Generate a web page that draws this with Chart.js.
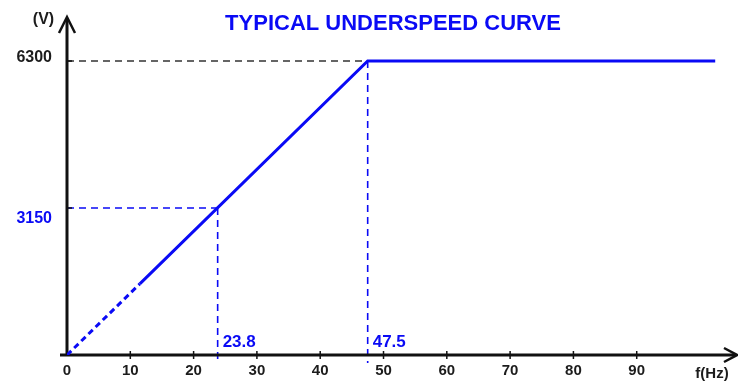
<!DOCTYPE html>
<html>
<head>
<meta charset="utf-8">
<script src="https://cdn.jsdelivr.net/npm/chart.js@4/dist/chart.umd.min.js"></script>
<style>
  html, body { margin: 0; padding: 0; background: #fff; }
  #wrap { width: 738px; height: 383px; }
</style>
</head>
<body>
<div id="wrap"><canvas id="c" width="738" height="383"></canvas></div>
<script>
// ---- data ----
const title = 'TYPICAL UNDERSPEED CURVE';
const yUnit = '(V)';
const xUnit = 'f(Hz)';
const curveF = [0, 11.5, 47.5, 102.4];      // Hz
const curveV = [0, 1525, 6300, 6300];       // V
const xTickValues = [0, 10, 20, 30, 40, 50, 60, 70, 80, 90];
const yTickValues = [3150, 6300];
const yTickLabels = ['3150', '6300'];
const markF = [23.8, 47.5];
const markV = [3150, 6300];
const markLabels = ['23.8', '47.5'];

const BLUE = '#0a0af5';
const DARK = '#1c1c1c';
const FONT = '"Liberation Sans", Arial, sans-serif';

const points = curveF.map((f, i) => ({ x: f, y: curveV[i] }));

const decor = {
  id: 'decor',
  beforeDatasetsDraw(chart) {
    const ctx = chart.ctx, xs = chart.scales.x, ys = chart.scales.y;
    const x0 = xs.getPixelForValue(0), y0 = ys.getPixelForValue(0);
    ctx.save();
    ctx.lineWidth = 1.6;
    // reference lines
    markF.forEach((f, i) => {
      const px = xs.getPixelForValue(f), py = ys.getPixelForValue(markV[i]);
      ctx.setLineDash([7, 5]);
      ctx.strokeStyle = i === 1 ? '#333' : BLUE;
      ctx.beginPath(); ctx.moveTo(x0, py); ctx.lineTo(px, py); ctx.stroke();
      ctx.strokeStyle = BLUE;
      ctx.beginPath(); ctx.moveTo(px, py); ctx.lineTo(px, y0 + 8); ctx.stroke();
    });
    ctx.setLineDash([]);
    // axes
    ctx.strokeStyle = '#111';
    ctx.lineWidth = 3;
    const top = chart.chartArea.top, right = chart.chartArea.right;
    ctx.beginPath(); ctx.moveTo(x0 - 7, y0); ctx.lineTo(right - 2, y0); ctx.stroke();
    ctx.beginPath(); ctx.moveTo(x0, y0 + 1); ctx.lineTo(x0, top + 2); ctx.stroke();
    ctx.lineWidth = 2.5;
    // arrow heads
    ctx.beginPath(); ctx.moveTo(x0 - 8, top + 16); ctx.lineTo(x0, top); ctx.lineTo(x0 + 8, top + 16); ctx.stroke();
    ctx.beginPath(); ctx.moveTo(right - 14, y0 - 7); ctx.lineTo(right - 1, y0); ctx.lineTo(right - 14, y0 + 7); ctx.stroke();
    // tick marks
    ctx.lineWidth = 1.5;
    xTickValues.forEach(v => {
      if (v === 0) return;
      const px = xs.getPixelForValue(v);
      ctx.beginPath(); ctx.moveTo(px, y0 - 4); ctx.lineTo(px, y0 + 4); ctx.stroke();
    });
    yTickValues.forEach(v => {
      const py = ys.getPixelForValue(v);
      ctx.beginPath(); ctx.moveTo(x0, py); ctx.lineTo(x0 + 5, py); ctx.stroke();
    });
    ctx.restore();
  },
  afterDraw(chart) {
    const ctx = chart.ctx, xs = chart.scales.x, ys = chart.scales.y;
    ctx.save();
    ctx.textBaseline = 'middle';
    // title
    ctx.fillStyle = BLUE; ctx.textAlign = 'center';
    ctx.font = 'bold 22px ' + FONT;
    ctx.fillText(title, 393, 24);
    // units
    ctx.fillStyle = DARK;
    ctx.font = 'bold 16px ' + FONT;
    ctx.fillText(yUnit, 43.5, 20);
    ctx.font = 'bold 15px ' + FONT;
    ctx.fillText(xUnit, 712, 374);
    // y tick labels
    ctx.textAlign = 'right';
    ctx.font = 'bold 16px ' + FONT;
    yTickValues.forEach((v, i) => {
      const py = ys.getPixelForValue(v);
      ctx.fillStyle = i === 0 ? BLUE : DARK;
      ctx.fillText(yTickLabels[i], 52, py + (i === 0 ? 11 : -3.5));
    });
    // marker labels
    ctx.textAlign = 'left';
    ctx.fillStyle = BLUE;
    ctx.font = 'bold 17px ' + FONT;
    markF.forEach((f, i) => {
      ctx.fillText(markLabels[i], xs.getPixelForValue(f) + 5, ys.getPixelForValue(0) - 13);
    });
    ctx.restore();
  }
};

new Chart(document.getElementById('c'), {
  type: 'line',
  data: {
    datasets: [{
      data: points,
      borderColor: BLUE,
      borderWidth: 3,
      pointRadius: 0,
      tension: 0,
      fill: false,
      segment: {
        borderDash: c => c.p0DataIndex === 0 ? [6, 4] : undefined
      }
    }]
  },
  options: {
    responsive: false,
    devicePixelRatio: 1,
    animation: false,
    layout: { padding: { left: 67, right: 0, top: 17, bottom: 0 } },
    plugins: { legend: { display: false }, tooltip: { enabled: false }, title: { display: false } },
    scales: {
      x: {
        type: 'linear', min: 0, max: 106,
        grid: { display: false, drawTicks: false },
        border: { display: false },
        afterBuildTicks: s => { s.ticks = xTickValues.map(v => ({ value: v })); },
        afterFit: s => { s.height = 28; },
        ticks: {
          autoSkip: false, maxRotation: 0, padding: 7,
          color: DARK,
          font: { family: FONT, size: 15, weight: 'bold' },
          callback: v => String(v)
        }
      },
      y: {
        type: 'linear', min: 0, max: 7243,
        display: false
      }
    }
  },
  plugins: [decor]
});
</script>
</body>
</html>
